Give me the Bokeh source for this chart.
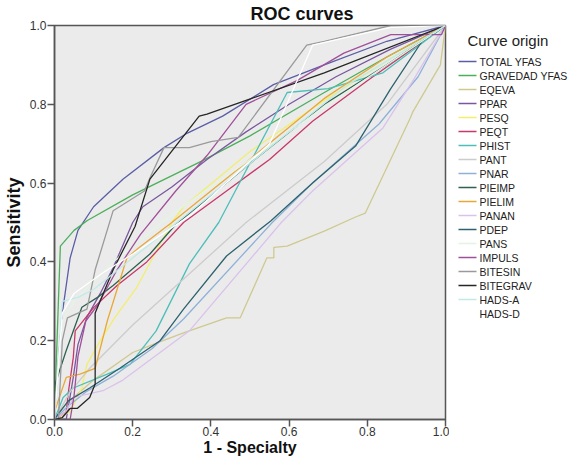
from bokeh.plotting import figure
from bokeh.models import Range1d, FixedTicker, PrintfTickFormatter
from bokeh.layouts import row
from bokeh.core.properties import value
from bokeh.embed import file_html
from bokeh.resources import INLINE

# ---------------- data (1 - specificity, sensitivity) ----------------
curve_names = ["TOTAL YFAS", "GRAVEDAD YFAS", "EQEVA", "PPAR", "PESQ", "PEQT", "PHIST",
               "PANT", "PNAR", "PIEIMP", "PIELIM", "PANAN", "PDEP", "PANS", "IMPULS",
               "BITESIN", "BITEGRAV", "HADS-A", "HADS-D"]

fpr_total_yfas = [0, 0.01, 0.02, 0.04, 0.06, 0.10, 0.175, 0.28, 0.34, 0.43, 0.56, 0.69, 0.85, 1]
tpr_total_yfas = [0, 0.15, 0.27, 0.41, 0.48, 0.54, 0.61, 0.69, 0.727, 0.77, 0.85, 0.90, 0.96, 1]

fpr_gravedad = [0, 0.003, 0.01, 0.015, 0.05, 0.084, 0.2, 0.375, 0.5, 0.69, 0.85, 1]
tpr_gravedad = [0, 0.1, 0.3, 0.44, 0.48, 0.505, 0.57, 0.655, 0.72, 0.83, 0.92, 1]

fpr_eqeva = [0, 0.03, 0.1, 0.2, 0.264, 0.33, 0.44, 0.475, 0.543, 0.561, 0.561, 0.595, 0.69, 0.77, 0.795, 0.91, 0.916, 0.987, 1]
tpr_eqeva = [0, 0.04, 0.1, 0.17, 0.195, 0.22, 0.258, 0.258, 0.41, 0.41, 0.437, 0.44, 0.478, 0.514, 0.524, 0.765, 0.78, 0.9, 1]

fpr_ppar = [0, 0.03, 0.036, 0.048, 0.06, 0.083, 0.117, 0.15, 0.2, 0.226, 0.3, 0.39, 0.49, 0.6, 0.72, 0.86, 1]
tpr_ppar = [0, 0.0, 0.035, 0.107, 0.19, 0.26, 0.32, 0.385, 0.5, 0.54, 0.59, 0.66, 0.73, 0.8, 0.87, 0.94, 1]

fpr_pesq = [0, 0.04, 0.07, 0.083, 0.117, 0.155, 0.21, 0.3, 0.33, 0.5, 0.69, 0.85, 1]
tpr_pesq = [0, 0.02, 0.08, 0.14, 0.2, 0.26, 0.335, 0.5, 0.54, 0.68, 0.81, 0.91, 1]

fpr_peqt = [0, 0.03, 0.036, 0.048, 0.053, 0.1, 0.16, 0.236, 0.33, 0.44, 0.55, 0.66, 0.8, 1]
tpr_peqt = [0, 0.02, 0.073, 0.157, 0.225, 0.284, 0.34, 0.4, 0.5, 0.58, 0.66, 0.757, 0.86, 1]

fpr_phist = [0, 0.022, 0.048, 0.135, 0.193, 0.26, 0.345, 0.42, 0.595, 0.7, 0.84, 1]
tpr_phist = [0, 0.056, 0.08, 0.115, 0.14, 0.225, 0.395, 0.5, 0.83, 0.84, 0.88, 1]

fpr_pant = [0, 0.04, 0.09, 0.2, 0.345, 0.49, 0.69, 0.85, 1]
tpr_pant = [0, 0.07, 0.13, 0.24, 0.37, 0.5, 0.655, 0.8, 1]

fpr_pnar = [0, 0.03, 0.08, 0.15, 0.25, 0.33, 0.557, 0.66, 0.83, 0.93, 1]
tpr_pnar = [0, 0.03, 0.07, 0.11, 0.18, 0.255, 0.5, 0.6, 0.75, 0.87, 1]

fpr_pieimp = [0, 0.0, 0.03, 0.07, 0.11, 0.15, 0.244, 0.31, 0.5, 0.69, 0.85, 1]
tpr_pieimp = [0, 0.085, 0.175, 0.285, 0.31, 0.34, 0.42, 0.495, 0.65, 0.8, 0.9, 1]

fpr_pielim = [0, 0.0, 0.03, 0.065, 0.104, 0.135, 0.185, 0.215, 0.3, 0.45, 0.69, 0.85, 1]
tpr_pielim = [0, 0.02, 0.107, 0.115, 0.13, 0.25, 0.41, 0.435, 0.5, 0.62, 0.815, 0.92, 1]

fpr_panan = [0, 0.03, 0.048, 0.124, 0.175, 0.345, 0.58, 0.66, 0.84, 0.92, 1]
tpr_panan = [0, 0.02, 0.056, 0.073, 0.1, 0.225, 0.5, 0.58, 0.74, 0.865, 1]

fpr_pdep = [0, 0.01, 0.036, 0.09, 0.167, 0.27, 0.33, 0.44, 0.553, 0.66, 0.77, 0.86, 0.94, 1]
tpr_pdep = [0, 0.015, 0.048, 0.08, 0.13, 0.2, 0.28, 0.415, 0.504, 0.6, 0.694, 0.84, 0.96, 1]

fpr_pans = [0, 0.01, 0.02, 0.05, 0.15, 0.3, 0.5, 0.7, 1]
tpr_pans = [0, 0.15, 0.25, 0.3, 0.4, 0.52, 0.66, 0.8, 1]

fpr_impuls = [0, 0.04, 0.05, 0.06, 0.08, 0.11, 0.16, 0.22, 0.31, 0.39, 0.49, 0.62, 0.74, 0.86, 0.99, 1]
tpr_impuls = [0, 0.0, 0.06, 0.16, 0.25, 0.29, 0.38, 0.47, 0.58, 0.67, 0.8, 0.86, 0.93, 0.977, 0.977, 1]

fpr_bitesin = [0, 0.01, 0.02, 0.033, 0.083, 0.104, 0.15, 0.23, 0.244, 0.28, 0.345, 0.4, 0.47, 0.645, 0.69, 0.86, 1]
tpr_bitesin = [0, 0.0, 0.2, 0.258, 0.28, 0.38, 0.53, 0.58, 0.613, 0.69, 0.69, 0.705, 0.716, 0.95, 0.96, 1.0, 1]

fpr_bitegrav = [0, 0.02, 0.04, 0.058, 0.09, 0.104, 0.104, 0.15, 0.206, 0.244, 0.37, 0.39, 0.49, 0.69, 1]
tpr_bitegrav = [0, 0.005, 0.028, 0.028, 0.056, 0.09, 0.27, 0.38, 0.49, 0.61, 0.77, 0.775, 0.81, 0.88, 1]

fpr_hads_a = [0, 0.01, 0.02, 0.06, 0.1, 0.25, 0.5, 0.75, 1]
tpr_hads_a = [0, 0.15, 0.3, 0.31, 0.33, 0.45, 0.65, 0.85, 1]

fpr_hads_d = [0, 0.02, 0.05, 0.12, 0.2, 0.35, 0.55, 0.66, 0.86, 1]
tpr_hads_d = [0, 0.27, 0.32, 0.37, 0.42, 0.52, 0.7, 0.95, 0.995, 1]

tick_values = [0.0, 0.2, 0.4, 0.6, 0.8, 1.0]

# ---------------- styles ----------------
curve_colors = ["#5b5ea6", "#4caf5a", "#cfc98f", "#7a58a0", "#f2ee6e", "#c8386a", "#4cbfb8",
                "#cccccc", "#8fb0d8", "#2f6050", "#e8a838", "#d9c2ec", "#2d6270", "#e4f4e4",
                "#a0509a", "#9a9a9a", "#262626", "#c0eae8", "#ffffff"]

curves = [
    (fpr_total_yfas, tpr_total_yfas), (fpr_gravedad, tpr_gravedad), (fpr_eqeva, tpr_eqeva),
    (fpr_ppar, tpr_ppar), (fpr_pesq, tpr_pesq), (fpr_peqt, tpr_peqt), (fpr_phist, tpr_phist),
    (fpr_pant, tpr_pant), (fpr_pnar, tpr_pnar), (fpr_pieimp, tpr_pieimp), (fpr_pielim, tpr_pielim),
    (fpr_panan, tpr_panan), (fpr_pdep, tpr_pdep), (fpr_pans, tpr_pans), (fpr_impuls, tpr_impuls),
    (fpr_bitesin, tpr_bitesin), (fpr_bitegrav, tpr_bitegrav), (fpr_hads_a, tpr_hads_a),
    (fpr_hads_d, tpr_hads_d),
]

FONT = "Liberation Sans"
FIG_H = 458
MAIN_W = 449
LEG_W = 122

# ---------------- main ROC panel ----------------
p = figure(width=MAIN_W, height=FIG_H, output_backend="svg", toolbar_location=None,
           x_range=Range1d(0, 1), y_range=Range1d(0, 1), frame_align=False,
           min_border_left=51, min_border_right=4, min_border_top=25, min_border_bottom=37)
p.background_fill_color = "#ebebeb"
p.border_fill_color = "white"
p.outline_line_color = "#555555"
p.outline_line_width = 1.5
p.grid.visible = False

p.title.text = "ROC curves"
p.title.align = "left"
p.title.offset = 196
p.title.text_font = FONT
p.title.text_font_size = "18px"
p.title.text_font_style = "bold"
p.title.text_color = "#111111"
p.title.standoff = 3

for ax in (p.xaxis[0], p.yaxis[0]):
    ax.ticker = FixedTicker(ticks=tick_values)
    ax.formatter = PrintfTickFormatter(format="%.1f")
    ax.minor_tick_line_color = None
    ax.major_tick_in = 0
    ax.major_tick_out = 7
    ax.major_tick_line_color = "#555555"
    ax.major_tick_line_width = 1.5
    ax.axis_line_color = "#555555"
    ax.axis_line_width = 1.5
    ax.major_label_text_font = FONT
    ax.major_label_text_font_size = "12px"
    ax.major_label_text_color = "#333333"
    ax.major_label_standoff = 1
    ax.axis_label_text_font = FONT
    ax.axis_label_text_font_style = "bold"
    ax.axis_label_text_color = "#111111"

p.xaxis.major_label_standoff = 0
p.yaxis.axis_label = "Sensitivity"
p.yaxis.axis_label_text_font_size = "18px"
p.yaxis.axis_label_standoff = 3
p.xaxis.axis_label = "1 - Specialty"
p.xaxis.axis_label_text_font_size = "16px"
p.xaxis.axis_label_standoff = 0

for (xs, ys), col in zip(curves, curve_colors):
    p.line(xs, ys, line_color=col, line_width=1.3)

# ---------------- legend panel ----------------
lg = figure(width=LEG_W, height=FIG_H, output_backend="svg", toolbar_location=None,
            x_range=Range1d(0, LEG_W), y_range=Range1d(FIG_H, 0), frame_align=False,
            x_axis_location=None, y_axis_location=None,
            min_border_left=0, min_border_right=0, min_border_top=0, min_border_bottom=0)
lg.grid.visible = False
lg.outline_line_color = None
lg.background_fill_color = "white"
lg.border_fill_color = "white"

row_y = [61 + 14 * k for k in range(len(curve_names))]
lg.segment(x0=9, x1=27, y0=row_y, y1=row_y, line_color=curve_colors, line_width=1.5)
lg.text(x=30, y=row_y, text=curve_names, text_font=value(FONT), text_font_size="10.5px",
        text_color="#222222", text_baseline="middle", text_align="left")
lg.text(x=[18], y=[40], text=["Curve origin"], text_font=value(FONT), text_font_size="15px",
        text_color="#222222", text_baseline="middle", text_align="left")

layout = row(p, lg, spacing=0)
open("out.html", "w").write(file_html(layout, INLINE))
